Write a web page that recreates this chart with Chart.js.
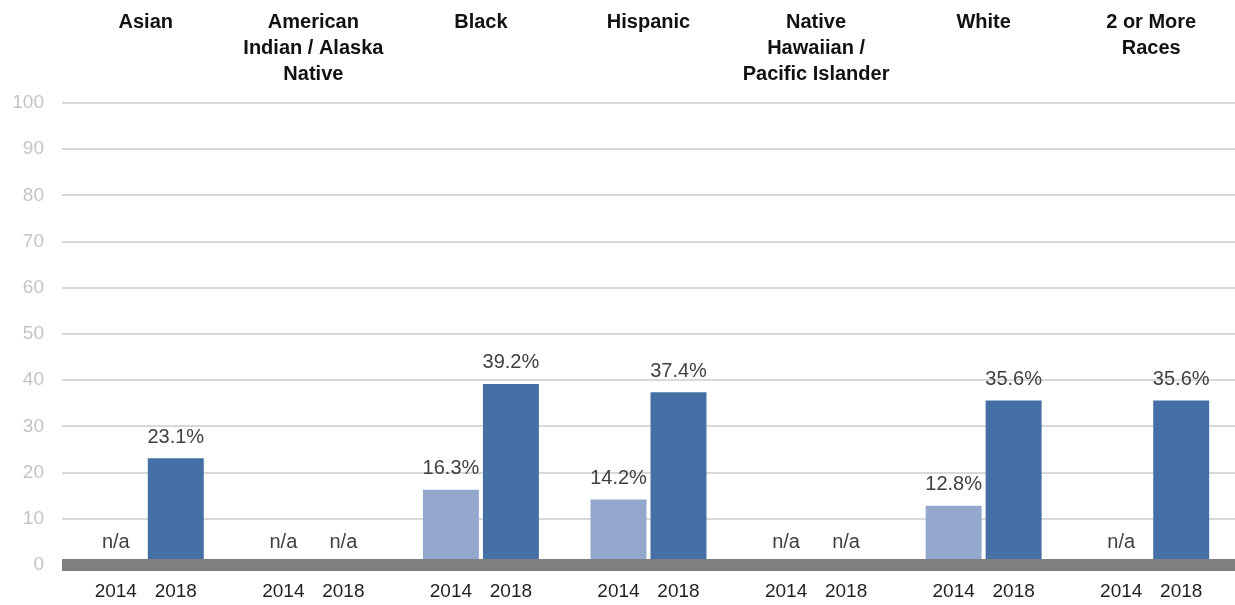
<!DOCTYPE html>
<html>
<head>
<meta charset="utf-8">
<script src="https://cdn.jsdelivr.net/npm/chart.js@4.4.1/dist/chart.umd.min.js"></script>
<style>
    html, body { margin: 0; padding: 0; background: #fff; }
    #wrap { width: 1235px; height: 605px; position: relative; }
</style>
</head>
<body>
<div id="wrap"><canvas id="chart"></canvas></div>
<script>
// --- DONNÉES ---
const groups = [
    ['Asian'],
    ['American', 'Indian / Alaska', 'Native'],
    ['Black'],
    ['Hispanic'],
    ['Native', 'Hawaiian /', 'Pacific Islander'],
    ['White'],
    ['2 or More', 'Races']
];
const years = ['2014', '2018'];
const values2014 = [null, null, 16.3, 14.2, null, 12.8, null];
const values2018 = [23.1, null, 39.2, 37.4, null, 35.6, 35.6];
const yTicks = [0, 10, 20, 30, 40, 50, 60, 70, 80, 90, 100];

const FONT = "'Liberation Sans', Arial, sans-serif";

// Ligne de base épaisse (grise) au niveau 0, par-dessus les barres
const baseLine = {
    id: 'baseLine',
    afterDatasetsDraw(chart) {
        const ctx = chart.ctx;
        const area = chart.chartArea;
        const y0 = chart.scales.y.getPixelForValue(0);
        ctx.save();
        ctx.fillStyle = '#7F7F7F';
        ctx.fillRect(area.left, y0 - 6, area.right - area.left, 12);
        ctx.restore();
    }
};

// Étiquettes : valeurs, n/a et années sous chaque barre
const barLabels = {
    id: 'barLabels',
    afterDraw(chart) {
        const ctx = chart.ctx;
        const bottom = chart.chartArea.bottom;
        ctx.save();
        ctx.textAlign = 'center';
        ctx.textBaseline = 'middle';
        chart.data.datasets.forEach((ds, di) => {
            const meta = chart.getDatasetMeta(di);
            meta.data.forEach((bar, i) => {
                const v = ds.data[i];
                ctx.font = '20px ' + FONT;
                ctx.fillStyle = '#404040';
                if (v === null) {
                    ctx.fillText('n/a', bar.x, bottom - 23);
                } else {
                    ctx.fillText(v.toFixed(1) + '%', bar.x, bar.y - 21);
                }
                ctx.font = '19px ' + FONT;
                ctx.fillStyle = '#1f1f1f';
                ctx.fillText(ds.label, bar.x, bottom + 27);
            });
        });
        ctx.restore();
    }
};

new Chart(document.getElementById('chart'), {
    type: 'bar',
    data: {
        labels: groups,
        datasets: [
            { label: years[0], data: values2014, backgroundColor: '#94A8CE',
              categoryPercentage: 0.716, barPercentage: 0.933 },
            { label: years[1], data: values2018, backgroundColor: '#4470A5',
              categoryPercentage: 0.716, barPercentage: 0.933 }
        ]
    },
    options: {
        responsive: true,
        maintainAspectRatio: false,
        animation: false,
        layout: { padding: { left: 0, right: 0, top: 0, bottom: 40 } },
        plugins: { legend: { display: false }, tooltip: { enabled: false } },
        scales: {
            x: {
                position: 'bottom',
                grid: { display: false, drawTicks: false },
                border: { display: false },
                ticks: { display: false }
            },
            xTop: {
                type: 'category',
                position: 'top',
                grid: { display: false, drawTicks: false },
                border: { display: false },
                ticks: {
                    padding: 16,
                    crossAlign: 'far',
                    color: '#111111',
                    font: { family: FONT, size: 20, weight: 'bold', lineHeight: '26px' }
                },
                afterFit: (scale) => { scale.height = 103; }
            },
            y: {
                min: 0,
                max: 100,
                afterBuildTicks: (scale) => { scale.ticks = yTicks.map(v => ({ value: v })); },
                grid: { color: '#D9D9D9', lineWidth: 2, drawTicks: false },
                border: { display: false },
                ticks: {
                    padding: 18,
                    color: '#C4C4C4',
                    font: { family: FONT, size: 19 }
                },
                afterFit: (scale) => { scale.width = 62; }
            }
        }
    },
    plugins: [baseLine, barLabels]
});
</script>
</body>
</html>
